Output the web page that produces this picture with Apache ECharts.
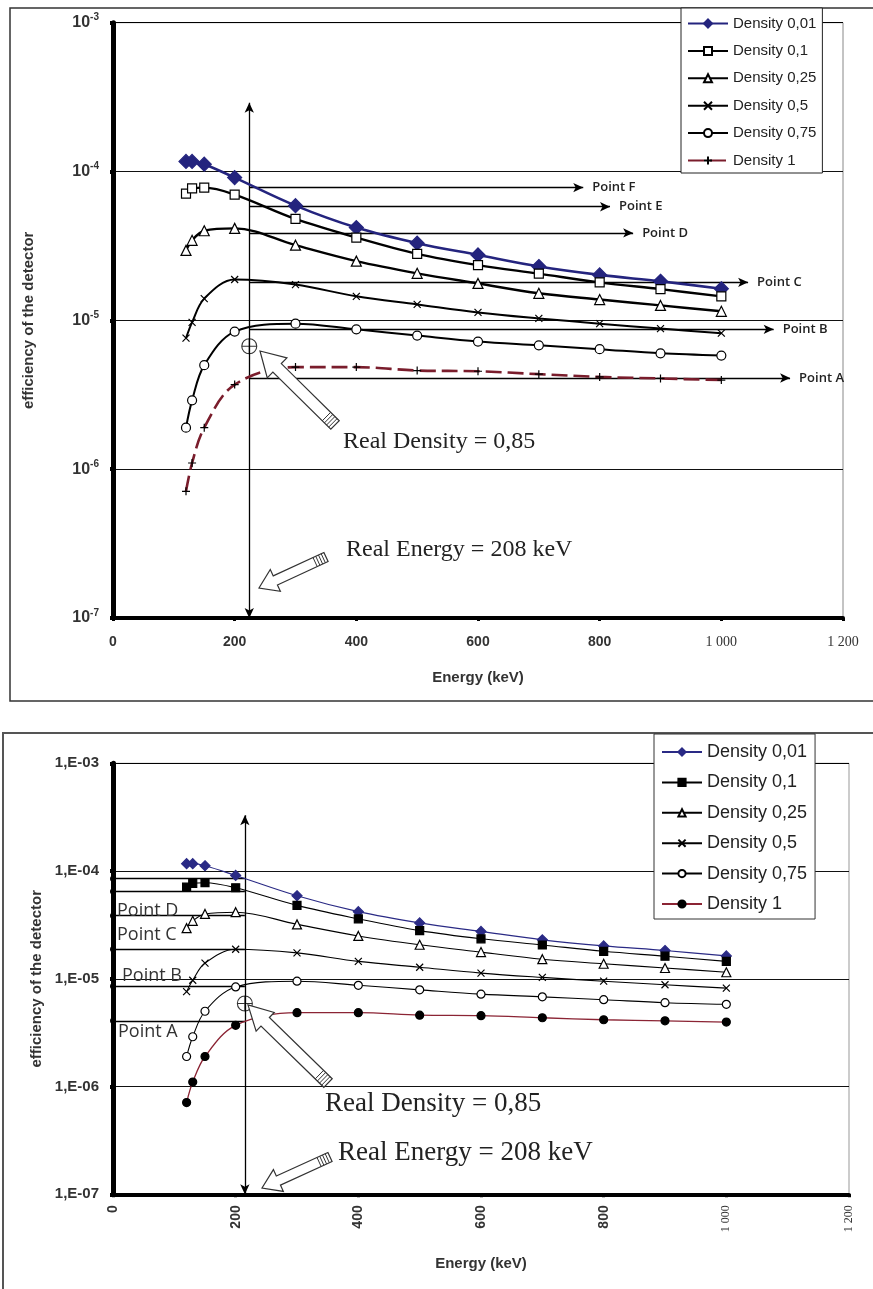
<!DOCTYPE html>
<html><head><meta charset="utf-8">
<script src="https://cdn.jsdelivr.net/npm/echarts@6/dist/echarts.min.js"></script>
<style>
html,body{margin:0;padding:0;background:#fff;width:873px;height:1289px;overflow:hidden}
#c1{position:absolute;left:0;top:0;width:873px;height:712px}
#c2{position:absolute;left:0;top:712px;width:873px;height:577px}
</style>
</head><body><div id="c1"></div><div id="c2"></div>
<script>
// ---------- data ----------
const energies = [120, 130, 150, 200, 300, 400, 500, 600, 700, 800, 900, 1000];
const density001 = [1.17e-4, 1.17e-4, 1.12e-4, 9.1e-5, 5.9e-5, 4.2e-5, 3.3e-5, 2.75e-5, 2.3e-5, 2.02e-5, 1.83e-5, 1.63e-5];
const density01  = [7.1e-5, 7.7e-5, 7.8e-5, 7.0e-5, 4.8e-5, 3.6e-5, 2.8e-5, 2.35e-5, 2.06e-5, 1.8e-5, 1.62e-5, 1.45e-5];
const density025 = [2.95e-5, 3.45e-5, 4.0e-5, 4.15e-5, 3.2e-5, 2.5e-5, 2.07e-5, 1.77e-5, 1.52e-5, 1.38e-5, 1.26e-5, 1.15e-5];
const density05  = [7.6e-6, 9.7e-6, 1.4e-5, 1.88e-5, 1.74e-5, 1.45e-5, 1.28e-5, 1.13e-5, 1.03e-5, 9.5e-6, 8.8e-6, 8.2e-6];
const density075 = [1.9e-6, 2.9e-6, 5.0e-6, 8.4e-6, 9.5e-6, 8.7e-6, 7.9e-6, 7.2e-6, 6.8e-6, 6.4e-6, 6.0e-6, 5.8e-6];
const density1   = [7.1e-7, 1.1e-6, 1.9e-6, 3.7e-6, 4.85e-6, 4.85e-6, 4.6e-6, 4.55e-6, 4.35e-6, 4.17e-6, 4.07e-6, 3.97e-6];
const seriesNames = ['Density 0,01', 'Density 0,1', 'Density 0,25', 'Density 0,5', 'Density 0,75', 'Density 1'];

const xTickValues = [0, 200, 400, 600, 800, 1000, 1200];
const xTickLabels = ['0', '200', '400', '600', '800', '1 000', '1 200'];

// reference construction (top figure)
const topRefLabels = ['Point F', 'Point E', 'Point D', 'Point C', 'Point B', 'Point A'];
const topRefLevels = [7.8e-5, 5.8e-5, 3.87e-5, 1.8e-5, 8.7e-6, 4.1e-6];
const topRefEnds   = [773, 817, 855, 1044, 1086, 1113];
const topRealEnergy = 224;
const topVerticalTop = 2.9e-4;
const topCross = 6.7e-6;

// reference construction (bottom figure)
const botRefLabels = ['', '', 'Point D', 'Point C', 'Point B', 'Point A'];
const botRefLevels = [8.5e-5, 6.45e-5, 3.85e-5, 1.88e-5, 8.55e-6, 4.07e-6];
const botRealEnergy = 215;
const botVerticalTop = 3.3e-4;
const botCross = 5.9e-6;

const allDensity = [density001, density01, density025, density05, density075, density1];
const pairs = arr => energies.map((e, i) => [e, arr[i]]);

const SANS = '"Liberation Sans", Arial, sans-serif';
const SERIF = '"Liberation Serif", serif';
const XPATH = 'path://M0,0L10,10M10,0L0,10';
const PLUSPATH = 'path://M5,0L5,10M0,5L10,5';
const CROSSCIRCLE = 'path://M0,7A7,7,0,1,1,14,7A7,7,0,1,1,0,7ZM7,0L7,14M0,7L14,7';

function xLabelFmt(v) {
  const i = xTickValues.indexOf(Math.round(v));
  const t = i >= 0 ? xTickLabels[i] : String(v);
  return v >= 1000 ? '{s|' + t + '}' : '{b|' + t + '}';
}
function expOf(v) { return Math.round(Math.log10(v)); }

function blockArrow(tip, tail, sw, hw, hl) {
  const dx = tip[0] - tail[0], dy = tip[1] - tail[1], len = Math.hypot(dx, dy);
  const ux = dx / len, uy = dy / len, nx = -uy, ny = ux;
  const nk = [tip[0] - ux * hl, tip[1] - uy * hl];
  const pts = [
    [tail[0] + nx * sw, tail[1] + ny * sw],
    [nk[0] + nx * sw, nk[1] + ny * sw],
    [nk[0] + nx * hw, nk[1] + ny * hw],
    tip,
    [nk[0] - nx * hw, nk[1] - ny * hw],
    [nk[0] - nx * sw, nk[1] - ny * sw],
    [tail[0] - nx * sw, tail[1] - ny * sw]
  ];
  const els = [{ type: 'polygon', z: 50, shape: { points: pts }, style: { fill: '#fff', stroke: '#333', lineWidth: 1.2 } }];
  [3, 6, 9, 12].forEach(k => {
    const cx = tail[0] + ux * k, cy = tail[1] + uy * k;
    els.push({ type: 'line', z: 51, shape: { x1: cx + nx * sw, y1: cy + ny * sw, x2: cx - nx * sw, y2: cy - ny * sw }, style: { stroke: '#333', lineWidth: 1 } });
  });
  return els;
}
function txt(x, y, text, font, fill) {
  return { type: 'text', z: 60, x: x, y: y, style: { text: text, font: font, fill: fill || '#222', align: 'left', verticalAlign: 'middle', textAlign: 'left', textVerticalAlign: 'middle' } };
}

// ---------- styles ----------
const topStyles = [
  { color: '#24247e', width: 2.6, symbol: 'diamond', size: 14, fill: '#24247e', border: '#24247e', type: 'solid' },
  { color: '#000', width: 2.4, symbol: 'rect', size: 9, fill: '#fff', border: '#000', type: 'solid' },
  { color: '#000', width: 2.4, symbol: 'triangle', size: 10, fill: '#fff', border: '#000', type: 'solid' },
  { color: '#000', width: 2.0, symbol: XPATH, size: 7, fill: '#000', border: '#000', type: 'solid' },
  { color: '#000', width: 2.0, symbol: 'circle', size: 9, fill: '#fff', border: '#000', type: 'solid' },
  { color: '#7a1d2c', width: 2.6, symbol: PLUSPATH, size: 8, fill: '#000', border: '#000', type: [16, 6] }
];
const botStyles = [
  { color: '#2a2a85', width: 1.2, symbol: 'diamond', size: 10, fill: '#2a2a85', border: '#2a2a85', type: 'solid' },
  { color: '#000', width: 1.1, symbol: 'rect', size: 8, fill: '#000', border: '#000', type: 'solid' },
  { color: '#000', width: 1.1, symbol: 'triangle', size: 9, fill: '#fff', border: '#000', type: 'solid' },
  { color: '#000', width: 1.1, symbol: XPATH, size: 7, fill: '#000', border: '#000', type: 'solid' },
  { color: '#000', width: 1.1, symbol: 'circle', size: 8, fill: '#fff', border: '#000', type: 'solid' },
  { color: '#8b2434', width: 1.3, symbol: 'circle', size: 8, fill: '#000', border: '#000', type: 'solid' }
];

function dataSeries(styles) {
  return seriesNames.map((n, i) => {
    const s = styles[i];
    return {
      type: 'line', name: n, data: pairs(allDensity[i]), smooth: 0.35,
      symbol: s.symbol, symbolSize: s.size, showSymbol: true, animation: false, z: 5,
      lineStyle: { color: s.color, width: s.width, type: s.type },
      itemStyle: { color: s.fill, borderColor: s.border, borderWidth: 1.2, opacity: 1 }
    };
  });
}

function axes(cfg) {
  return {
    xAxis: {
      type: 'value', min: 0, max: 1200, interval: 200,
      name: 'Energy (keV)', nameLocation: 'middle', nameGap: cfg.xNameGap,
      nameTextStyle: { fontFamily: SANS, fontWeight: 'bold', fontSize: 15, color: '#333' },
      axisLine: { show: true, onZero: false, lineStyle: { color: '#000', width: 4 } },
      axisTick: { show: true, length: 3, lineStyle: { color: '#000', width: 3 } },
      splitLine: { show: false },
      axisLabel: {
        margin: cfg.xMargin, rotate: cfg.xRotate, formatter: xLabelFmt,
        rich: {
          b: { fontFamily: SANS, fontWeight: 'bold', fontSize: 14, color: '#333' },
          s: { fontFamily: SERIF, fontWeight: 'normal', fontSize: cfg.serifSize, color: '#333' }
        }
      }
    },
    yAxis: {
      type: 'log', logBase: 10, min: 1e-7, max: 1e-3,
      name: 'efficiency of the detector', nameLocation: 'middle', nameGap: cfg.yNameGap,
      nameTextStyle: { fontFamily: SANS, fontWeight: 'bold', fontSize: 15, color: '#333' },
      axisLine: { show: true, onZero: false, lineStyle: { color: '#000', width: 5 } },
      axisTick: { show: true, length: 3, lineStyle: { color: '#000', width: 4 } },
      splitLine: { show: true, lineStyle: { color: ['#000', '#111', '#111', '#111', '#888'], width: 1 } },
      axisLabel: cfg.yLabel
    }
  };
}

// ---------- top chart ----------
const topAxes = axes({
  xNameGap: 52, xMargin: 17, xRotate: 0, serifSize: 14, yNameGap: 77,
  yLabel: {
    margin: 14,
    formatter: v => '{b|10}{s|' + expOf(v) + '}',
    rich: {
      b: { fontFamily: SANS, fontWeight: 'bold', fontSize: 16, color: '#333' },
      s: { fontFamily: SANS, fontWeight: 'bold', fontSize: 10, color: '#333', padding: [0, 0, 10, 0] }
    }
  }
});

const topRefSeries = {
  type: 'scatter', name: '__ref', data: [[topRealEnergy, topCross]], z: 6, animation: false,
  symbol: CROSSCIRCLE, symbolSize: 15,
  itemStyle: { color: 'rgba(255,255,255,0)', borderColor: '#000', borderWidth: 1.1 },
  markLine: {
    silent: true, animation: false, symbolSize: [7, 10],
    lineStyle: { color: '#000', width: 1.3, type: 'solid' },
    label: { show: true, position: 'end', distance: 9, formatter: '{b}', fontFamily: '"Open Sans", sans-serif', fontWeight: 600, fontSize: 13, color: '#222' },
    data: topRefLevels.map((v, i) => [
      { name: topRefLabels[i], coord: [topRealEnergy, v], symbol: 'none' },
      { name: topRefLabels[i], coord: [topRefEnds[i], v], symbol: 'arrow' }
    ]).concat([[
      { name: '', coord: [topRealEnergy, 1e-7], symbol: 'arrow' },
      { name: '', coord: [topRealEnergy, topVerticalTop], symbol: 'arrow' }
    ]])
  }
};

const c1 = echarts.init(document.getElementById('c1'), null, { renderer: 'canvas' });
c1.setOption({
  animation: false,
  backgroundColor: '#fff',
  grid: { left: 113, top: 22.7, width: 730, height: 595.3, show: true, borderColor: '#888', borderWidth: 1, backgroundColor: 'transparent', containLabel: false, outerBoundsMode: 'none' },
  legend: {
    orient: 'vertical', left: 681, top: 8, padding: [8, 6, 5, 6],
    data: seriesNames, itemWidth: 40, itemHeight: 10, itemGap: 12.4,
    backgroundColor: '#fff', borderColor: '#222', borderWidth: 1,
    textStyle: { fontFamily: SANS, fontSize: 15, lineHeight: 14, color: '#222' },
    selectedMode: false, z: 20
  },
  xAxis: topAxes.xAxis,
  yAxis: topAxes.yAxis,
  series: dataSeries(topStyles).concat([topRefSeries]),
  graphic: [
    { type: 'rect', z: 0, shape: { x: 10, y: 8, width: 900, height: 693 }, style: { fill: 'none', stroke: '#333', lineWidth: 1.5 } }
  ].concat(blockArrow([260, 351], [335, 425], 6, 14, 24))
   .concat(blockArrow([259, 588], [326, 557], 5, 12, 18))
   .concat([
     txt(343, 442, 'Real Density = 0,85', '24px ' + SERIF),
     txt(346, 550, 'Real Energy = 208 keV', '24px ' + SERIF)
   ])
});

// ---------- bottom chart ----------
const botAxes = axes({
  xNameGap: 62, xMargin: 11, xRotate: 90, serifSize: 12, yNameGap: 69,
  yLabel: {
    margin: 14,
    formatter: v => { const e = expOf(v); return '{b|1,E-' + (Math.abs(e) < 10 ? '0' : '') + Math.abs(e) + '}'; },
    rich: { b: { fontFamily: SANS, fontWeight: 'bold', fontSize: 15, color: '#333' } }
  }
});

const botRefSeries = {
  type: 'scatter', name: '__ref', data: [[botRealEnergy, botCross]], z: 6, animation: false,
  symbol: CROSSCIRCLE, symbolSize: 15,
  itemStyle: { color: 'rgba(255,255,255,0)', borderColor: '#000', borderWidth: 1.1 },
  markLine: {
    silent: true, animation: false, symbolSize: [7, 10],
    lineStyle: { color: '#000', width: 1.3, type: 'solid' },
    label: { show: false },
    data: botRefLevels.map((v, i) => [
      { name: botRefLabels[i], coord: [0, v], symbol: 'circle', symbolSize: 6 },
      { name: botRefLabels[i], coord: [botRealEnergy, v], symbol: 'none' }
    ]).concat([[
      { name: '', coord: [botRealEnergy, 1e-7], symbol: 'arrow' },
      { name: '', coord: [botRealEnergy, botVerticalTop], symbol: 'arrow' }
    ]])
  }
};

const OFF = 712;
const c2 = echarts.init(document.getElementById('c2'), null, { renderer: 'canvas' });
c2.setOption({
  animation: false,
  backgroundColor: '#fff',
  grid: { left: 113, top: 763.3 - OFF, width: 736, height: 431, show: true, borderColor: '#999', borderWidth: 1, backgroundColor: 'transparent', containLabel: false, outerBoundsMode: 'none' },
  legend: {
    orient: 'vertical', left: 654, top: 734 - OFF, padding: [9, 8, 6, 7],
    data: seriesNames, itemWidth: 40, itemHeight: 9, itemGap: 12.4,
    backgroundColor: '#fff', borderColor: '#333', borderWidth: 1,
    textStyle: { fontFamily: SANS, fontSize: 18, lineHeight: 14, color: '#222' },
    selectedMode: false, z: 20
  },
  xAxis: botAxes.xAxis,
  yAxis: botAxes.yAxis,
  series: dataSeries(botStyles).concat([botRefSeries]),
  graphic: [
    { type: 'rect', z: 0, shape: { x: 3, y: 733 - OFF, width: 900, height: 700 }, style: { fill: 'none', stroke: '#555', lineWidth: 2 } }
  ].concat(blockArrow([248, 1005 - OFF], [328, 1083 - OFF], 6, 13, 24))
   .concat(blockArrow([262, 1188 - OFF], [330, 1157 - OFF], 5, 12, 18))
   .concat([
     txt(325, 1104 - OFF, 'Real Density = 0,85', '27px ' + SERIF),
     txt(338, 1153 - OFF, 'Real Energy = 208 keV', '27px ' + SERIF),
     txt(117, 911 - OFF, botRefLabels[2], '18px "Open Sans", sans-serif', '#333'),
     txt(117, 935 - OFF, botRefLabels[3], '18px "Open Sans", sans-serif', '#333'),
     txt(122, 976 - OFF, botRefLabels[4], '18px "Open Sans", sans-serif', '#333'),
     txt(118, 1032 - OFF, botRefLabels[5], '18px "Open Sans", sans-serif', '#333')
   ])
});
</script>
</body></html>
